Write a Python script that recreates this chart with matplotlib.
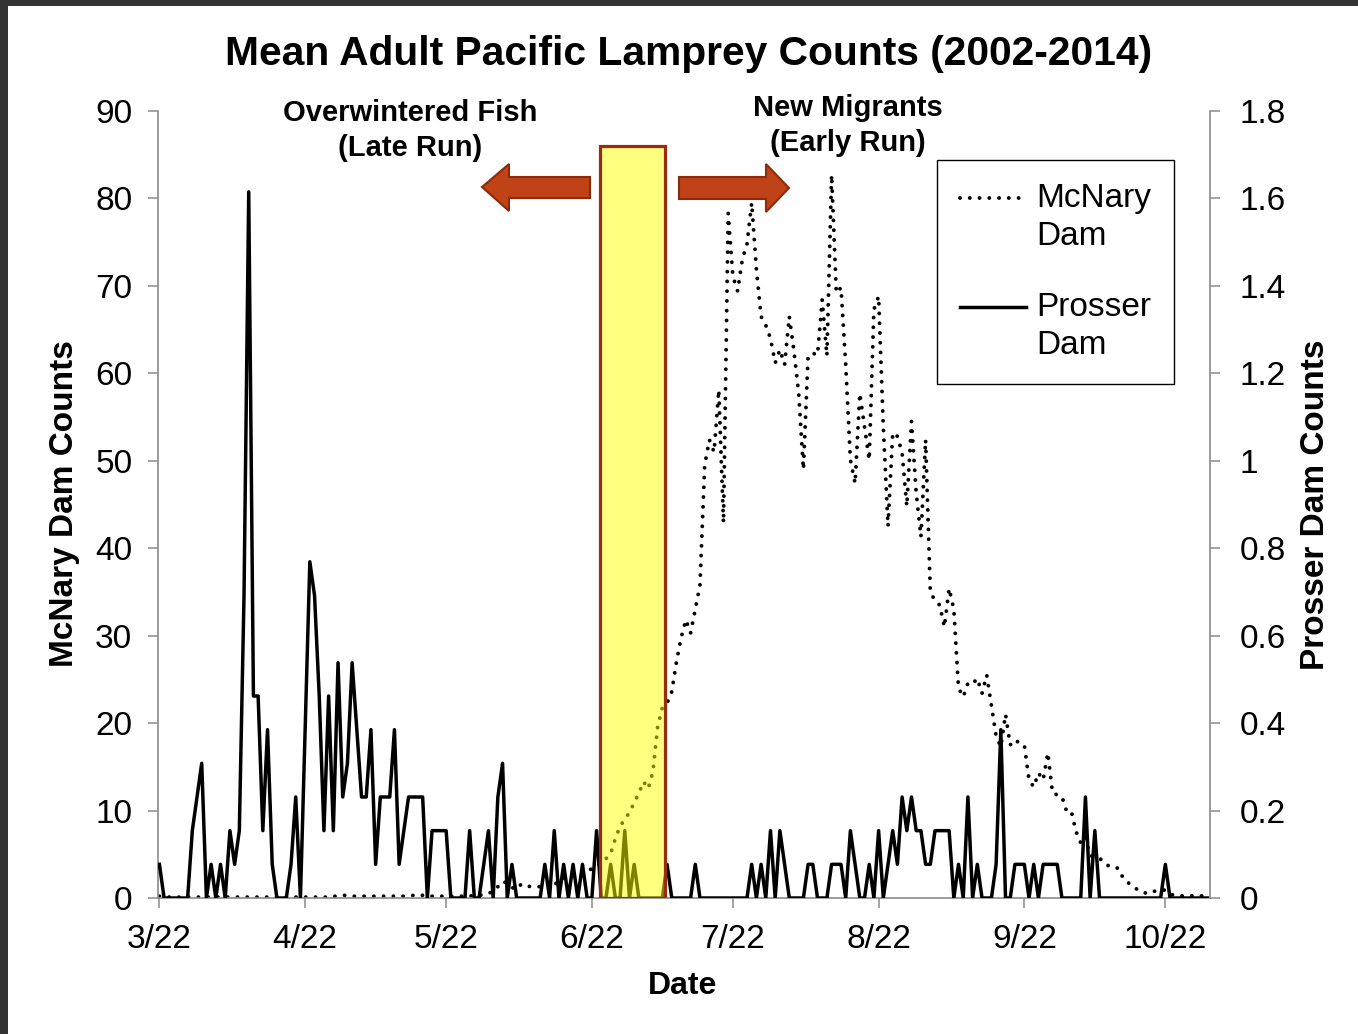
import datetime as dt
import numpy as np
import matplotlib
matplotlib.use("Agg")
import matplotlib.pyplot as plt
from matplotlib.patches import Rectangle, Polygon
from matplotlib.ticker import FuncFormatter

plt.rcParams['font.family'] = ['Liberation Sans', 'DejaVu Sans']

# ---------------- data ----------------
start_date = dt.date(2014, 3, 22)
tick_dates = [dt.date(2014, m, 22) for m in range(3, 11)]
tick_labels = ['3/22', '4/22', '5/22', '6/22', '7/22', '8/22', '9/22', '10/22']

# McNary Dam mean daily counts (left axis), one value per day from 3/22
mcnary = [
    0.2, 0.1, 0.1, 0.1, 0.1, 0.1, 0.1, 0.1, 0.1, 0.1,
    0.1, 0.1, 0.1, 0.1, 0.1, 0.1, 0.1, 0.1, 0.1, 0.1,
    0.1, 0.1, 0.1, 0.1, 0.1, 0.1, 0.1, 0.1, 0.1, 0.1,
    0.1, 0.1, 0.1, 0.1, 0.1, 0.1, 0.1, 0.2, 0.2, 0.3,
    0.3, 0.2, 0.2, 0.2, 0.2, 0.2, 0.2, 0.2, 0.2, 0.2,
    0.2, 0.2, 0.2, 0.2, 0.3, 0.4, 0.3, 0.2, 0.2, 0.2,
    0.2, 0.2, 0.2, 0.2, 0.2, 0.2, 0.2, 0.3, 0.3, 0.4,
    0.5, 0.8, 1.3, 1.9, 1.7, 1.2, 1.0, 1.6, 1.4, 1.3,
    1.3, 1.3, 1.7, 1.6, 1.4, 2.1, 2.3, 2.5, 2.6, 2.6,
    2.7, 2.9, 3.4, 3.7, 3.9, 4.5, 5.1, 6.8, 8.2, 9.0,
    9.8, 10.9, 12.0, 13.3, 12.5, 14.5, 19.6, 21.8, 22.3, 23.6,
    27.0, 29.8, 31.8, 30.3, 33.0, 35.8, 49.5, 52.4, 51.0, 58.1,
    42.9, 78.3, 71.1, 69.4, 73.0, 74.8, 79.5, 71.9, 66.5, 65.5,
    64.0, 61.2, 62.7, 61.0, 66.5, 62.5, 57.7, 49.0, 62.0, 62.3,
    62.1, 68.4, 62.0, 82.7, 69.2, 69.8, 61.0, 50.1, 47.4, 57.7,
    53.9, 50.1, 67.3, 68.8, 53.9, 42.5, 53.2, 52.8, 50.9, 44.8,
    54.5, 46.3, 41.3, 52.4, 35.0, 34.0, 33.5, 31.0, 35.4, 33.0,
    24.0, 23.0, 24.6, 24.5, 25.1, 23.4, 25.5, 22.0, 18.5, 17.3,
    21.0, 17.5, 18.1, 17.7, 17.5, 13.5, 12.7, 14.3, 13.5, 16.6,
    12.0, 11.8, 11.6, 9.9, 9.9, 7.6, 6.3, 7.0, 4.9, 4.6,
    4.5, 4.2, 3.6, 3.5, 3.4, 2.3, 1.8, 1.3, 1.0, 0.8,
    0.5, 0.7, 0.8, 0.9, 0.9, 0.45, 0.3, 0.25, 0.25, 0.25,
    0.25, 0.25, 0.25, 0.25,
]

# Prosser Dam mean daily counts (right axis)
prosser = [
    0.077, 0, 0, 0, 0, 0, 0, 0.154, 0.231, 0.308,
    0, 0.077, 0, 0.077, 0, 0.154, 0.077, 0.154, 0.692, 1.615,
    0.462, 0.462, 0.154, 0.385, 0.077, 0, 0, 0, 0.077, 0.231,
    0, 0.385, 0.769, 0.692, 0.462, 0.154, 0.462, 0.154, 0.538, 0.231,
    0.308, 0.538, 0.385, 0.231, 0.231, 0.385, 0.077, 0.231, 0.231, 0.231,
    0.385, 0.077, 0.154, 0.231, 0.231, 0.231, 0.231, 0, 0.154, 0.154,
    0.154, 0.154, 0, 0, 0, 0, 0.154, 0, 0, 0.077,
    0.154, 0, 0.231, 0.308, 0, 0.077, 0, 0, 0, 0,
    0, 0, 0.077, 0, 0.154, 0, 0.077, 0, 0.077, 0,
    0.077, 0, 0, 0.154, 0, 0, 0.077, 0, 0, 0.154,
    0, 0.077, 0, 0, 0, 0, 0, 0, 0.077, 0,
    0, 0, 0, 0, 0.077, 0, 0, 0, 0, 0,
    0, 0, 0, 0, 0, 0, 0.077, 0, 0.077, 0,
    0.154, 0, 0.154, 0.077, 0, 0, 0, 0, 0.077, 0.077,
    0, 0, 0, 0.077, 0.077, 0.077, 0, 0.154, 0.077, 0,
    0, 0.077, 0, 0.154, 0, 0.077, 0.154, 0.077, 0.231, 0.154,
    0.231, 0.154, 0.154, 0.077, 0.077, 0.154, 0.154, 0.154, 0.154, 0,
    0.077, 0, 0.231, 0, 0.077, 0, 0, 0, 0.077, 0.385,
    0, 0, 0.077, 0.077, 0.077, 0, 0.077, 0, 0.077, 0.077,
    0.077, 0.077, 0, 0, 0, 0, 0, 0.231, 0, 0.154,
    0, 0, 0, 0, 0, 0, 0, 0, 0, 0,
    0, 0, 0, 0, 0.077, 0, 0, 0, 0, 0,
    0, 0, 0, 0,
]

# highlighted window (days after 3/22) and its height on the McNary scale
highlight_start, highlight_end, highlight_top = 93.7, 107.6, 86.0

# ---------------- figure ----------------
W, H = 1358, 1034
fig = plt.figure(figsize=(W / 100, H / 100), dpi=100)
fig.patch.set_facecolor('white')

def fx(px):
    return px / W

def fy(py):
    return 1 - py / H

ax = fig.add_axes([fx(158), fy(898), fx(1210) - fx(158), fy(111) - fy(898)])
ax2 = ax.twinx()

days = np.arange(len(mcnary))
tick_pos = [(d - start_date).days for d in tick_dates]

grey = '#8a8a8a'
l1, = ax.plot(days, mcnary, color='black', lw=2.8, linestyle=(0, (0.01, 2.5)),
              dash_capstyle='round', label='McNary\nDam', zorder=2)
l2, = ax2.plot(days[:len(prosser)], prosser, color='black', lw=2.5,
               label='Prosser\nDam', zorder=2)

ax.set_xlim(-0.3, 223.5)
ax.set_ylim(0, 90)
ax2.set_ylim(0, 1.8)

ax.set_yticks(np.arange(0, 91, 10))
ax2.set_yticks(np.round(np.arange(0, 1.81, 0.2), 1))
ax2.yaxis.set_major_formatter(FuncFormatter(lambda v, p: f'{round(v, 1):g}'))
ax.set_xticks(tick_pos)
ax.set_xticklabels(tick_labels)

for a in (ax, ax2):
    a.spines['top'].set_visible(False)
    a.set_facecolor('none')
ax.spines['right'].set_visible(False)
ax2.spines['left'].set_visible(False)
ax2.spines['bottom'].set_visible(False)
for s in (ax.spines['left'], ax.spines['bottom'], ax2.spines['right']):
    s.set_color(grey)
    s.set_linewidth(1.2)

ax.tick_params(axis='both', direction='out', length=7.5, width=1.1, color=grey,
               labelsize=24, pad=11, labelcolor='black')
ax2.tick_params(axis='y', direction='out', length=7.5, width=1.1, color=grey,
                labelsize=24, pad=14, labelcolor='black')

# highlight box (semi-transparent yellow over the lines)
rect = Rectangle((highlight_start, 0), highlight_end - highlight_start,
                 highlight_top / 90 * 1.8, facecolor=(1, 1, 0, 0.5),
                 edgecolor='#9A2B12', lw=2.3, zorder=5)
ax2.add_patch(rect)

# arrows
arrow_face, arrow_edge = '#BF4317', '#8E2A0C'
left_arrow = [(590, 177), (509, 177), (509, 164), (482, 187), (509, 211), (509, 198), (590, 198)]
right_arrow = [(679, 177), (766, 177), (766, 164), (789, 188), (766, 212), (766, 199), (679, 199)]
for pts in (left_arrow, right_arrow):
    fig.add_artist(Polygon([(fx(x), fy(y)) for x, y in pts], closed=True,
                           transform=fig.transFigure, facecolor=arrow_face,
                           edgecolor=arrow_edge, lw=1.5))

# texts
fig.text(fx(689), fy(54), 'Mean Adult Pacific Lamprey Counts (2002-2014)',
         ha='center', va='center', fontsize=29.3, fontweight='bold')
fig.text(fx(410), fy(130.5), 'Overwintered Fish\n(Late Run)', ha='center', va='center',
         fontsize=21, fontweight='bold', linespacing=1.29)
fig.text(fx(848), fy(125.5), 'New Migrants\n(Early Run)', ha='center', va='center',
         fontsize=21, fontweight='bold', linespacing=1.29)
fig.text(fx(65), fy(504), 'McNary Dam Counts', rotation=90, ha='center', va='center',
         fontsize=24, fontweight='bold')
fig.text(fx(1315), fy(505), 'Prosser Dam Counts', rotation=90, ha='center', va='center',
         fontsize=24, fontweight='bold')
fig.text(fx(683), fy(986), 'Date', ha='center', va='center', fontsize=23, fontweight='bold')

# legend (line sample aligned with the first line of each label)
leg = ax2.legend(handles=[l1, l2], labels=['McNary\nDam', 'Prosser\nDam'],
                 loc='upper left', bbox_to_anchor=(fx(937), fy(160)),
                 bbox_transform=fig.transFigure, fontsize=24, frameon=True,
                 fancybox=False, edgecolor='black', framealpha=1,
                 borderpad=0.68, handlelength=2.0, handletextpad=0.3,
                 labelspacing=1.2, borderaxespad=0)
for t in leg.get_texts():
    t.set_linespacing(1.3)
leg.get_frame().set_linewidth(1.0)
leg.set_zorder(10)
for h in leg.legend_handles:
    y = np.asarray(h.get_ydata(), dtype=float)
    h.set_ydata(y + 14.0)

# dark screenshot frame on top and left edges
fig.add_artist(Rectangle((0, fy(6)), 1, 6 / H, transform=fig.transFigure,
                         facecolor='#333333', edgecolor='none'))
fig.add_artist(Rectangle((0, 0), 8 / W, 1, transform=fig.transFigure,
                         facecolor='#333333', edgecolor='none'))

fig.savefig('out.png', dpi=100)
